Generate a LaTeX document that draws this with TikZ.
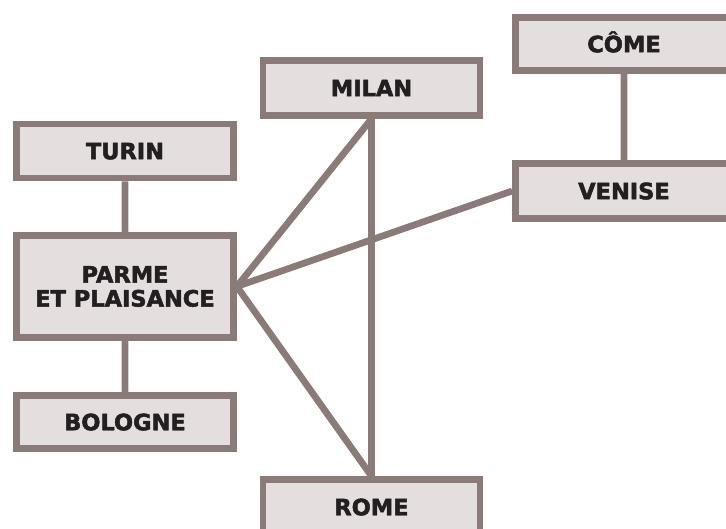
\documentclass[tikz,border=0pt]{standalone}
\usepackage{fontspec}
\setmainfont{DejaVu Sans}[BoldFeatures={FakeBold=2.2}]
\usetikzlibrary{positioning,backgrounds}
\definecolor{cadre}{RGB}{138,122,120}
\definecolor{fond}{RGB}{228,222,222}
\definecolor{encre}{RGB}{35,31,32}

\begin{document}
\begin{tikzpicture}[x=1pt,y=1pt,on grid,
	ville/.style={rectangle,draw=cadre,fill=fond,line width=6.7pt,
		minimum width=217pt,minimum height=55pt,inner sep=0pt,
		text=encre,font=\fontsize{22.5}{24}\selectfont\bfseries,
		text height=16.5pt,text depth=0pt,align=center},
	lien/.style={draw=cadre,line width=6.7pt}]
		\useasboundingbox (0,0) rectangle (726,-529);
		\clip (0,0) rectangle (726,-529);
		\node[ville,minimum height=102pt,text height=,text depth=] (parme) at (125,-286.5) {PARME\\ET PLAISANCE};
		\node[ville,minimum height=54pt] (turin) [above=135.5pt of parme] {TURIN};
		\node[ville,minimum height=53pt] (bologne) [below=135.5pt of parme] {BOLOGNE};
		\node[ville] (milan) [above right=63pt and 246.5pt of turin] {MILAN};
		\node[ville] (rome) [below=419pt of milan] {ROME};
		\node[ville,minimum height=53pt] (come) [above right=44pt and 252.5pt of milan] {CÔME};
		\node[ville] (venise) [below=147pt of come] {VENISE};
		\begin{scope}[on background layer]
		\path[lien]
		(turin) -- (parme)
		(parme) -- (bologne)
		(come) -- (venise)
		(milan.south) -- (rome.north)
		(parme.east) -- (milan.south)
		(parme.east) -- (rome.north)
		(parme.east) -- (venise.west);
		\end{scope}
	\end{tikzpicture}
\end{document}
